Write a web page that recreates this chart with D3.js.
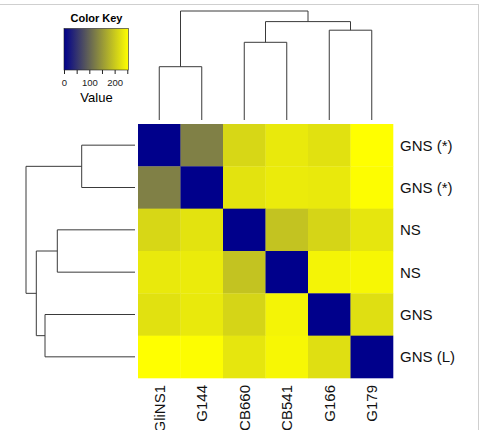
<!DOCTYPE html>
<html>
<head>
<meta charset="utf-8">
<script src="https://cdn.jsdelivr.net/npm/d3@7"></script>
<style>
  body { margin: 0; background: #fff; }
  text { font-family: "Liberation Sans", Arial, sans-serif; }
</style>
</head>
<body>
<svg id="chart" width="480" height="430"></svg>
<script>
// column / row labels (same samples, clustered order)
const colLabels = ["GliNS1", "G144", "CB660", "CB541", "G166", "G179"];
const rowLabels = ["GNS (*)", "GNS (*)", "NS", "NS", "GNS", "GNS (L)"];

// distance matrix, rows top -> bottom, columns left -> right
const distRows = [
    [0, 127, 214, 232, 224, 254],
    [127, 0, 226, 234, 232, 252],
    [214, 226, 0, 194, 212, 229],
    [232, 234, 194, 0, 243, 246],
    [224, 232, 212, 243, 0, 222],
    [254, 252, 229, 246, 222, 0]
];

// hclust style merges: negative = leaf index (1-based), positive = earlier merge
const dendroMerge = [[-1, -2], [-3, -4], [-5, -6], [2, 3], [1, 4]];
const colDendroHeights = [53.3, 77.7, 89.8, 98.4, 109];
const rowDendroHeights = [53.3, 77.7, 90.0, 98.7, 109];

// color key
const keyDomain = [0, 254];
const keyTicks = [0, 50, 100, 150, 200, 250];
const keyLabels = [0, 100, 200];

let svg = d3.select("#chart");

// light frame (top and right edges)
svg.append("line").attr("x1", 0).attr("x2", 478).attr("y1", 4.5).attr("y2", 4.5)
    .attr("stroke", "#cfcfcf").attr("stroke-width", 1);
svg.append("line").attr("x1", 478.5).attr("x2", 478.5).attr("y1", 4).attr("y2", 430)
    .attr("stroke", "#cfcfcf").attr("stroke-width", 1);

let x = d3.scaleBand().domain(d3.range(colLabels.length)).range([138, 393]),
    y = d3.scaleBand().domain(d3.range(rowLabels.length)).range([124, 378]),
    color = d3.scaleLinear().domain(keyDomain).range(["#00008B", "#FFFF00"]);

// *** Heatmap cells
let cells = [];
distRows.forEach((row, i) => row.forEach((v, j) => cells.push({ r: i, c: j, v: v })));
svg.append("g").attr("class", "cells")
    .selectAll("rect")
    .data(cells)
    .enter().append("rect")
    .attr("x", d => x(d.c))
    .attr("y", d => y(d.r))
    .attr("width", x.bandwidth() + 0.3)
    .attr("height", y.bandwidth() + 0.3)
    .attr("fill", d => color(d.v));

// *** Labels
svg.append("g").attr("class", "row-labels")
    .selectAll("text")
    .data(rowLabels)
    .enter().append("text")
    .attr("x", 400)
    .attr("y", (d, i) => y(i) + y.bandwidth() / 2)
    .attr("dy", "0.36em")
    .attr("font-size", 15)
    .attr("fill", "#111")
    .text(d => d);

svg.append("g").attr("class", "col-labels")
    .selectAll("text")
    .data(colLabels)
    .enter().append("text")
    .attr("transform", (d, i) => "translate(" + (x(i) + x.bandwidth() / 2) + ",385) rotate(-90)")
    .attr("dy", "0.36em")
    .attr("text-anchor", "end")
    .attr("font-size", 15)
    .attr("fill", "#111")
    .text(d => d);

// *** Dendrograms
function buildNodes(heights, leafPos) {
    let nodes = [];
    dendroMerge.forEach((m, k) => {
        let kids = m.map(id => id < 0 ? { pos: leafPos(-id - 1), h: 0 } : nodes[id - 1]);
        nodes.push({ pos: (kids[0].pos + kids[1].pos) / 2, h: heights[k], kids: kids });
    });
    return nodes;
}

let maxH = d3.max(colDendroHeights.concat(rowDendroHeights)),
    yTop = d3.scaleLinear().domain([0, maxH]).range([120, 11]),
    xLeft = d3.scaleLinear().domain([0, maxH]).range([135, 26]);

let colNodes = buildNodes(colDendroHeights, i => x(i) + x.bandwidth() / 2),
    rowNodes = buildNodes(rowDendroHeights, i => y(i) + y.bandwidth() / 2);

svg.append("g").attr("class", "col-dendro")
    .selectAll("path")
    .data(colNodes)
    .enter().append("path")
    .attr("fill", "none")
    .attr("stroke", "#3a3a3a")
    .attr("stroke-width", 1)
    .attr("d", d => {
        let a = d.kids[0], b = d.kids[1];
        return "M" + a.pos + "," + yTop(a.h) + "V" + yTop(d.h) + "H" + b.pos + "V" + yTop(b.h);
    });

svg.append("g").attr("class", "row-dendro")
    .selectAll("path")
    .data(rowNodes)
    .enter().append("path")
    .attr("fill", "none")
    .attr("stroke", "#3a3a3a")
    .attr("stroke-width", 1)
    .attr("d", d => {
        let a = d.kids[0], b = d.kids[1];
        return "M" + xLeft(a.h) + "," + a.pos + "H" + xLeft(d.h) + "V" + b.pos + "H" + xLeft(b.h);
    });

// *** Color key
let key = svg.append("g").attr("class", "color-key"),
    kx = d3.scaleLinear().domain(keyDomain).range([64, 128.3]);

let grad = svg.append("defs").append("linearGradient").attr("id", "key-grad");
grad.selectAll("stop")
    .data(keyDomain)
    .enter().append("stop")
    .attr("offset", (d, i) => i * 100 + "%")
    .attr("stop-color", d => color(d));

key.append("text")
    .attr("x", 96.5).attr("y", 22)
    .attr("text-anchor", "middle")
    .attr("font-size", 11)
    .attr("font-weight", "bold")
    .text("Color Key");

key.append("rect")
    .attr("x", 64).attr("y", 28.5)
    .attr("width", 64.3).attr("height", 41.5)
    .attr("fill", "url(#key-grad)")
    .attr("stroke", "#222").attr("stroke-width", 0.6);

let keyAxis = key.append("g")
    .attr("transform", "translate(0,70)")
    .call(d3.axisBottom(kx).tickValues(keyTicks).tickSize(4)
        .tickFormat(d => keyLabels.includes(d) ? d : ""));
keyAxis.select(".domain").remove();
keyAxis.selectAll("text").attr("font-size", 9.5).attr("dy", "0.95em")
    .attr("font-family", "Liberation Sans, Arial, sans-serif").attr("fill", "#222");
keyAxis.selectAll("line").attr("stroke", "#222");

key.append("text")
    .attr("x", 96.5).attr("y", 101.5)
    .attr("text-anchor", "middle")
    .attr("font-size", 13)
    .text("Value");
</script>
</body>
</html>
